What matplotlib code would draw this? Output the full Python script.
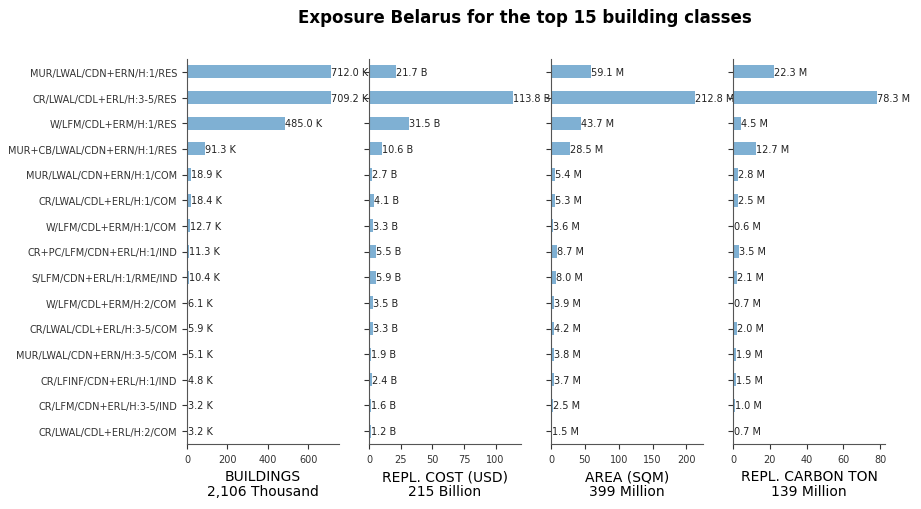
import matplotlib
matplotlib.use("Agg")
import matplotlib.pyplot as plt
import numpy as np

categories = [
    "MUR/LWAL/CDN+ERN/H:1/RES",
    "CR/LWAL/CDL+ERL/H:3-5/RES",
    "W/LFM/CDL+ERM/H:1/RES",
    "MUR+CB/LWAL/CDN+ERN/H:1/RES",
    "MUR/LWAL/CDN+ERN/H:1/COM",
    "CR/LWAL/CDL+ERL/H:1/COM",
    "W/LFM/CDL+ERM/H:1/COM",
    "CR+PC/LFM/CDN+ERL/H:1/IND",
    "S/LFM/CDN+ERL/H:1/RME/IND",
    "W/LFM/CDL+ERM/H:2/COM",
    "CR/LWAL/CDL+ERL/H:3-5/COM",
    "MUR/LWAL/CDN+ERN/H:3-5/COM",
    "CR/LFINF/CDN+ERL/H:1/IND",
    "CR/LFM/CDN+ERL/H:3-5/IND",
    "CR/LWAL/CDL+ERL/H:2/COM",
]
buildings_k = [712.0, 709.2, 485.0, 91.3, 18.9, 18.4, 12.7, 11.3, 10.4, 6.1, 5.9, 5.1, 4.8, 3.2, 3.2]
cost_b = [21.7, 113.8, 31.5, 10.6, 2.7, 4.1, 3.3, 5.5, 5.9, 3.5, 3.3, 1.9, 2.4, 1.6, 1.2]
area_m = [59.1, 212.8, 43.7, 28.5, 5.4, 5.3, 3.6, 8.7, 8.0, 3.9, 4.2, 3.8, 3.7, 2.5, 1.5]
carbon_m = [22.3, 78.3, 4.5, 12.7, 2.8, 2.5, 0.6, 3.5, 2.1, 0.7, 2.0, 1.9, 1.5, 1.0, 0.7]

series = [buildings_k, cost_b, area_m, carbon_m]
units = ["K", "B", "M", "M"]
xlabels = ["BUILDINGS\n2,106 Thousand", "REPL. COST (USD)\n215 Billion",
           "AREA (SQM)\n399 Million", "REPL. CARBON TON\n139 Million"]
title = "Exposure Belarus for the top 15 building classes"

color = "#7fb0d3"
fig = plt.figure(figsize=(9.21, 5.1), dpi=100)
left0 = 187 / 921
w = 152 / 921
gap = 182 / 921
bottom = 1 - 445 / 510
top = 1 - 60 / 510
y = np.arange(len(categories))
for i, (vals, unit, xl) in enumerate(zip(series, units, xlabels)):
    ax = fig.add_axes([left0 + i * gap, bottom, w, top - bottom])
    bars = ax.barh(y, vals, height=0.5, color=color)
    ax.set_ylim(len(categories) - 0.5, -0.5)
    ax.set_xlim(0, max(vals) * 1.055)
    ax.set_yticks(y)
    if i == 0:
        ax.set_yticklabels(categories, fontsize=7, color="#222222")
    else:
        ax.set_yticklabels([])
    for b, v in zip(bars, vals):
        ax.text(b.get_width(), b.get_y() + b.get_height() / 2, f"{v:.1f} {unit}",
                va="center", ha="left", fontsize=7, color="#222222", clip_on=False)
    ax.spines["top"].set_visible(False)
    ax.spines["right"].set_visible(False)
    for s in ["left", "bottom"]:
        ax.spines[s].set_color("#555555")
    ax.tick_params(axis="x", labelsize=7, colors="#333333")
    ax.tick_params(axis="y", colors="#333333", length=3.5)
    ax.set_xlabel(xl, fontsize=10, linespacing=1.1)

fig.suptitle(title, fontsize=12, fontweight="bold", x=0.57, y=0.982)
fig.savefig("out.png", dpi=100)
